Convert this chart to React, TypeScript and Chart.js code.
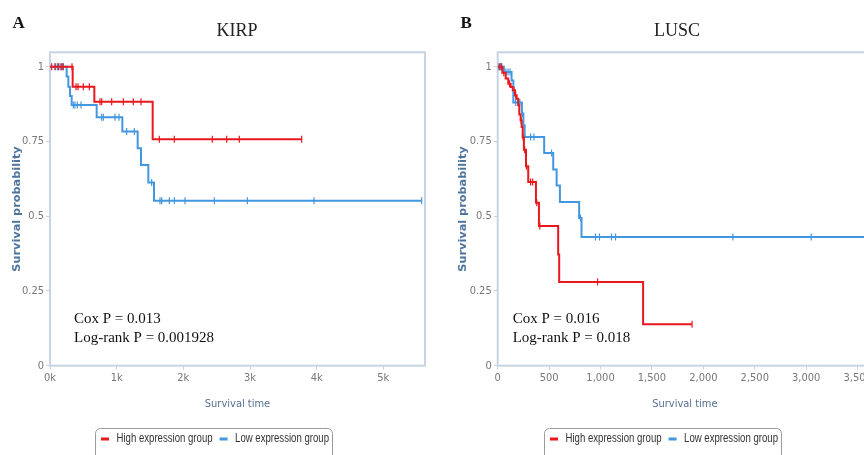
import React, { useEffect, useRef } from 'react';
import { Chart, registerables } from 'chart.js';

Chart.register(...registerables);

type Pt = [number, number];

const RED = '#e8181d';
const BLUE = '#4297e0';
const NARROW = '"Liberation Sans Narrow", "Arial Narrow", "DejaVu Sans Condensed", sans-serif';
const SANS = '"Liberation Sans", Arial, sans-serif';
const SERIF = '"Liberation Serif", "Times New Roman", serif';

const seriesLabels = ['High expression group', 'Low expression group'];
const seriesColors = [RED, BLUE];
const yTicks = [0, 0.25, 0.5, 0.75, 1];

// ---------- KIRP ----------
const kirpXTicks = [0, 1000, 2000, 3000, 4000, 5000];
const kirpHighSteps: Pt[] = [[0, 1], [340, 0.933], [665, 0.883], [1540, 0.757], [3775, 0.757]];
const kirpHighCensored: Pt[] = [
  [25, 1], [75, 1], [125, 1], [175, 1], [200, 1], [330, 1],
  [390, 0.933], [420, 0.933], [500, 0.933], [590, 0.933],
  [750, 0.883], [775, 0.883], [925, 0.883], [1100, 0.883], [1250, 0.883], [1365, 0.883],
  [1640, 0.757], [1865, 0.757], [2435, 0.757], [2650, 0.757], [2840, 0.757], [3775, 0.757],
];
const kirpLowSteps: Pt[] = [
  [0, 1], [250, 0.967], [275, 0.933], [300, 0.902], [325, 0.872], [700, 0.831], [1085, 0.783],
  [1315, 0.727], [1365, 0.671], [1475, 0.613], [1560, 0.552], [5575, 0.552],
];
const kirpLowCensored: Pt[] = [
  [80, 1], [110, 1], [135, 1], [160, 1], [190, 1],
  [350, 0.872], [375, 0.872], [410, 0.872], [465, 0.872],
  [775, 0.831], [800, 0.831], [975, 0.831], [1035, 0.831],
  [1150, 0.783], [1265, 0.783], [1525, 0.613],
  [1650, 0.552], [1675, 0.552], [1790, 0.552], [1865, 0.552], [2025, 0.552], [2465, 0.552],
  [2960, 0.552], [3960, 0.552], [5575, 0.552],
];
const kirpStats = ['Cox P = 0.013', 'Log-rank P = 0.001928'];

// ---------- LUSC ----------
const luscXTicks = [0, 500, 1000, 1500, 2000, 2500, 3000, 3500];
const luscHighSteps: Pt[] = [
  [0, 1], [45, 0.98], [78, 0.96], [103, 0.943], [126, 0.932], [146, 0.921], [168, 0.904],
  [184, 0.893], [200, 0.871], [210, 0.84], [223, 0.82], [233, 0.798], [243, 0.763], [255, 0.722],
  [275, 0.667], [297, 0.614], [372, 0.545], [401, 0.467], [588, 0.372], [598, 0.28],
  [1414, 0.139], [1890, 0.139],
];
const luscHighCensored: Pt[] = [
  [20, 1], [35, 1], [60, 0.98], [115, 0.943], [155, 0.921], [160, 0.921], [175, 0.904],
  [228, 0.82], [248, 0.763], [262, 0.722], [280, 0.667], [320, 0.614], [340, 0.614],
  [380, 0.545], [410, 0.467], [971, 0.28], [1890, 0.139],
];
const luscLowSteps: Pt[] = [
  [0, 1], [60, 0.982], [135, 0.954], [152, 0.88], [235, 0.843], [250, 0.804], [262, 0.765],
  [452, 0.711], [540, 0.656], [573, 0.603], [605, 0.547], [792, 0.494], [815, 0.43], [3700, 0.43],
];
const luscLowCensored: Pt[] = [
  [10, 1], [25, 1], [40, 1], [80, 0.982], [100, 0.982], [120, 0.982],
  [175, 0.88], [200, 0.88], [215, 0.88], [240, 0.843], [320, 0.765], [352, 0.765],
  [524, 0.711], [805, 0.494], [951, 0.43], [990, 0.43], [1107, 0.43], [1146, 0.43],
  [2287, 0.43], [3049, 0.43],
];
const luscStats = ['Cox P = 0.016', 'Log-rank P = 0.018'];

interface PanelProps {
  letter: string;
  letterX: number;
  title: string;
  left: number;
  width: number;
  rightPad: number;
  yAxisWidth: number;
  yTitlePad: number;
  xMax: number;
  xTicks: number[];
  xFormat: (v: number) => string;
  titleX: number;
  statsOffset: number;
  stats: string[];
  high: Pt[];
  highCens: Pt[];
  low: Pt[];
  lowCens: Pt[];
}

const HEIGHT = 455;
const PLOT_TOP = 52.3;
const PLOT_BOTTOM = 365.7;

function toXY(arr: Pt[]) {
  return arr.map(([x, y]) => ({ x, y }));
}

function KMPanel(p: PanelProps) {
  const ref = useRef<HTMLCanvasElement | null>(null);
  useEffect(() => {
    if (!ref.current) return;
    const decor = {
      id: 'decor',
      beforeDatasetsDraw(chart: any) {
        const { ctx, chartArea: ca } = chart;
        ctx.save();
        ctx.strokeStyle = '#C6D4E4';
        ctx.lineWidth = 2;
        ctx.strokeRect(ca.left, ca.top, ca.right - ca.left, ca.bottom - ca.top);
        ctx.restore();
      },
      afterDraw(chart: any) {
        const { ctx, chartArea: ca } = chart;
        ctx.save();
        ctx.fillStyle = '#111';
        ctx.textBaseline = 'alphabetic';
        ctx.textAlign = 'left';
        ctx.font = `bold 17px ${SERIF}`;
        ctx.fillText(p.letter, p.letterX, 28);
        ctx.fillStyle = '#222';
        ctx.font = `18px ${SERIF}`;
        ctx.textAlign = 'center';
        ctx.fillText(p.title, p.titleX, 36);
        ctx.textAlign = 'left';
        ctx.font = `15px ${SERIF}`;
        ctx.fillStyle = '#111';
        ctx.fillText(p.stats[0], ca.left + p.statsOffset, 323);
        ctx.fillText(p.stats[1], ca.left + p.statsOffset, 341.5);

        // legend (narrowed text, framed box)
        const sx = 0.8;
        const fontPx = 12;
        ctx.font = `${fontPx}px ${SANS}`;
        const sw = 8;
        const gapText = 7.5;
        const gapItem = 7;
        const widths = seriesLabels.map((t) => ctx.measureText(t).width * sx);
        const inner = widths.reduce((a, w) => a + sw + gapText + w, 0) + gapItem * (widths.length - 1);
        const padL = 6;
        const padR = 3;
        const boxW = inner + padL + padR;
        const boxL = Math.round(chart.width / 2 - boxW / 2);
        const boxT = 428;
        const boxB = HEIGHT + 6;
        const cy = 439;
        const rad = 5;
        ctx.strokeStyle = '#9a9a9a';
        ctx.lineWidth = 1;
        const l = boxL + 0.5;
        const r = boxL + boxW + 0.5;
        const t = boxT + 0.5;
        ctx.beginPath();
        ctx.moveTo(l, boxB);
        ctx.lineTo(l, t + rad);
        ctx.arcTo(l, t, l + rad, t, rad);
        ctx.lineTo(r - rad, t);
        ctx.arcTo(r, t, r, t + rad, rad);
        ctx.lineTo(r, boxB);
        ctx.stroke();
        let x = boxL + padL;
        ctx.textBaseline = 'middle';
        seriesLabels.forEach((txt, i) => {
          ctx.fillStyle = seriesColors[i];
          ctx.fillRect(x, cy - 1.5, sw, 3);
          x += sw + gapText;
          ctx.save();
          ctx.translate(x, cy);
          ctx.scale(sx, 1);
          ctx.fillStyle = '#333';
          ctx.fillText(txt, 0, 0);
          ctx.restore();
          x += widths[i] + gapItem;
        });
        ctx.restore();
      },
    };

    const chart = new Chart(ref.current, {
      type: 'scatter',
      data: {
        datasets: [
          {
            type: 'line',
            label: seriesLabels[0],
            data: toXY(p.high),
            borderColor: RED,
            backgroundColor: RED,
            borderWidth: 2,
            stepped: 'before',
            pointRadius: 0,
            fill: false,
          } as any,
          {
            type: 'line',
            label: seriesLabels[1],
            data: toXY(p.low),
            borderColor: BLUE,
            backgroundColor: BLUE,
            borderWidth: 2,
            stepped: 'before',
            pointRadius: 0,
            fill: false,
          } as any,
          {
            label: 'High censored',
            data: toXY(p.highCens),
            pointStyle: 'line',
            rotation: 90,
            pointRadius: 3.5,
            borderColor: RED,
            borderWidth: 1.2,
            showLine: false,
          } as any,
          {
            label: 'Low censored',
            data: toXY(p.lowCens),
            pointStyle: 'line',
            rotation: 90,
            pointRadius: 3.5,
            borderColor: BLUE,
            borderWidth: 1.2,
            showLine: false,
          } as any,
        ],
      },
      options: {
        animation: false,
        responsive: false,
        devicePixelRatio: 1,
        events: [],
        layout: { autoPadding: false, padding: { top: PLOT_TOP, right: p.rightPad, bottom: 0, left: 0 } },
        plugins: {
          title: { display: false },
          tooltip: { enabled: false },
          legend: { display: false },
        },
        scales: {
          x: {
            type: 'linear',
            min: 0,
            max: p.xMax,
            afterBuildTicks: (s: any) => {
              s.ticks = p.xTicks.map((v) => ({ value: v }));
            },
            afterFit: (s: any) => {
              s.height = HEIGHT - PLOT_BOTTOM;
            },
            grid: { display: true, drawOnChartArea: false, drawTicks: true, tickLength: 4, color: '#C6D4E4' },
            border: { display: false },
            ticks: {
              padding: 2,
              autoSkip: false,
              maxRotation: 0,
              color: '#777',
              font: { family: NARROW, size: 11 },
              callback: (v: any) => p.xFormat(Number(v)),
            },
            title: {
              display: true,
              text: 'Survival time',
              color: '#557092',
              font: { family: NARROW, size: 11 },
              padding: { top: 0, bottom: 44.2 },
            },
          },
          y: {
            type: 'linear',
            min: 0,
            max: 1.048,
            afterBuildTicks: (s: any) => {
              s.ticks = yTicks.map((v) => ({ value: v }));
            },
            afterFit: (s: any) => {
              s.width = p.yAxisWidth;
            },
            grid: { display: true, drawOnChartArea: false, drawTicks: true, tickLength: 4, color: '#C6D4E4' },
            border: { display: false },
            ticks: {
              padding: 2,
              color: '#777',
              font: { family: NARROW, size: 11 },
              callback: (v: any) => String(v),
            },
            title: {
              display: true,
              text: 'Survival probability',
              color: '#4d759e',
              font: { family: '"DejaVu Sans", sans-serif', size: 11.3, weight: 'bold' },
              padding: { top: p.yTitlePad, bottom: 0 },
            },
          },
        },
      } as any,
      plugins: [decor],
    });
    return () => chart.destroy();
  }, []);
  return (
    <canvas
      ref={ref}
      width={p.width}
      height={HEIGHT}
      style={{ position: 'absolute', left: p.left, top: 0, width: p.width, height: HEIGHT }}
    />
  );
}

export default function App() {
  return (
    <div
      style={{
        position: 'fixed',
        left: 0,
        top: 0,
        width: 864,
        height: HEIGHT,
        overflow: 'hidden',
        background: '#fff',
      }}
    >
      <KMPanel
        letter="A"
        letterX={12.5}
        title="KIRP"
        left={0}
        width={427}
        rightPad={2}
        yAxisWidth={50}
        yTitlePad={10.2}
        xMax={5625}
        xTicks={kirpXTicks}
        xFormat={(v) => `${v / 1000}k`}
        titleX={237}
        statsOffset={24}
        stats={kirpStats}
        high={kirpHighSteps}
        highCens={kirpHighCensored}
        low={kirpLowSteps}
        lowCens={kirpLowCensored}
      />
      <KMPanel
        letter="B"
        letterX={20.5}
        title="LUSC"
        left={440}
        width={445}
        rightPad={13}
        yAxisWidth={57.7}
        yTitlePad={16.2}
        xMax={3640}
        xTicks={luscXTicks}
        xFormat={(v) => v.toLocaleString('en-US')}
        titleX={237}
        statsOffset={15}
        stats={luscStats}
        high={luscHighSteps}
        highCens={luscHighCensored}
        low={luscLowSteps}
        lowCens={luscLowCensored}
      />
    </div>
  );
}
